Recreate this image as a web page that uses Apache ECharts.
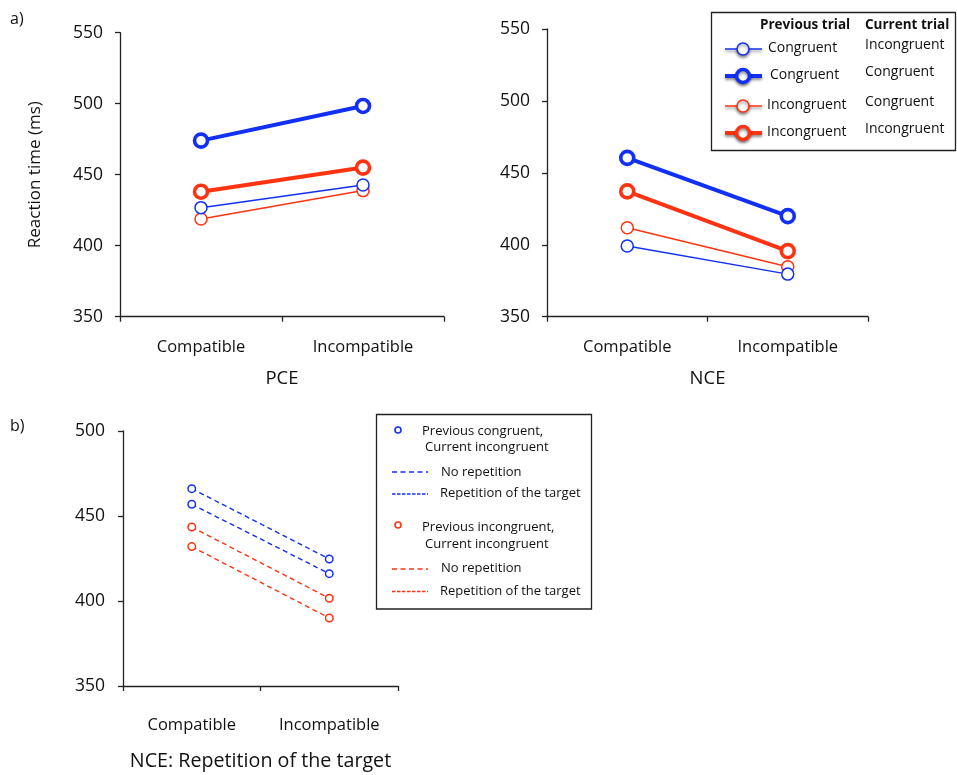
<!DOCTYPE html>
<html><head><meta charset="utf-8">
<script src="https://cdn.jsdelivr.net/npm/echarts@6/dist/echarts.min.js"></script>
<style>html,body{margin:0;padding:0;background:#fff}#c{width:957px;height:775px}</style>
</head><body><div id="c"></div>
<script>
// ---- data ----
const categories = ['Compatible', 'Incompatible'];
const yTicks = [350, 400, 450, 500, 550];
// PCE panel
const pceCongInc = [426.8, 442.7];   // previous congruent, current incongruent (thin blue)
const pceCongCong = [474, 498.4];    // previous congruent, current congruent (thick blue)
const pceIncCong = [418.8, 438.8];   // previous incongruent, current congruent (thin red)
const pceIncInc = [438, 455];        // previous incongruent, current incongruent (thick red)
// NCE panel
const nceCongInc = [399.1, 379.6];
const nceCongCong = [460.4, 419.9];
const nceIncCong = [411.8, 384.7];
const nceIncInc = [437.1, 395.6];
// NCE: repetition of the target panel
const repCongNoRep = [466.1, 424.7];
const repCongRep = [456.9, 416.1];
const repIncNoRep = [443.5, 401.6];
const repIncRep = [432, 390];

const BLUE = '#1230f5';
const RED = '#ff3312';
const FONT = 'Open Sans';

const chart = echarts.init(document.getElementById('c'), null, {renderer: 'canvas'});

function xAx(gi, name, margin, nameGap, nameSize) {
  return {
    type: 'category', gridIndex: gi, data: categories, boundaryGap: true,
    axisLine: {lineStyle: {color: '#222', width: 1.3}},
    axisTick: {show: true, length: 5, inside: false, lineStyle: {color: '#222', width: 1.3}},
    axisLabel: {color: '#111', fontSize: 16.5, fontFamily: FONT, margin: margin},
    name: name, nameLocation: 'middle', nameGap: nameGap,
    nameTextStyle: {color: '#111', fontSize: nameSize, fontFamily: FONT}
  };
}
function yAx(gi, min, max, margin, extra) {
  return Object.assign({
    type: 'value', gridIndex: gi, min: min, max: max, interval: 50,
    axisLine: {show: true, lineStyle: {color: '#222', width: 1.3}},
    axisTick: {show: true, length: 5, lineStyle: {color: '#222', width: 1.3}},
    axisLabel: {color: '#111', fontSize: 17.5, fontFamily: FONT, margin: margin},
    splitLine: {show: false}
  }, extra || {});
}
function solid(gi, data, color, thick) {
  return {
    type: 'line', xAxisIndex: gi, yAxisIndex: gi, data: data,
    symbol: 'circle', symbolSize: thick ? 13 : 12, showSymbol: true,
    lineStyle: {color: color, width: thick ? 4 : 1.5},
    itemStyle: {color: '#fff', borderColor: color, borderWidth: thick ? 3.6 : 1.5},
    emphasis: {disabled: true}, animation: false, z: thick ? 3 : 2
  };
}
function dashed(gi, data, color) {
  return {
    type: 'line', xAxisIndex: gi, yAxisIndex: gi, data: data,
    symbol: 'circle', symbolSize: 7.5, showSymbol: true,
    lineStyle: {color: color, width: 1.4, type: [5, 3.5]},
    itemStyle: {color: '#fff', borderColor: color, borderWidth: 1.5},
    emphasis: {disabled: true}, animation: false
  };
}

const sh = {shadowColor: 'rgba(0,0,0,0.45)', shadowBlur: 3, shadowOffsetY: 2};
function txt(x, y, s, size, bold) {
  return {type: 'text', x: x, y: y, z: 101,
    style: {text: s, font: (bold ? 'bold ' : '') + size + 'px "Open Sans"', fill: '#111', verticalAlign: 'middle'}};
}
function legRow(y, color, thick, prev, cur, prevX) {
  return [
    {type: 'line', z: 101, shape: {x1: 725, y1: y + 1, x2: 762, y2: y + 1},
     style: Object.assign({stroke: color, lineWidth: thick ? 4 : 1.5}, sh)},
    {type: 'circle', z: 102, shape: {cx: 743, cy: y + 1, r: thick ? 6.5 : 6},
     style: Object.assign({fill: '#fff', stroke: color, lineWidth: thick ? 3.5 : 1.5}, sh)},
    txt(prevX, y, prev, 14),
    txt(865, y - 2.5, cur, 14)
  ];
}

let graphic = [
  txt(10, 19, 'a)', 16),
  txt(10, 426, 'b)', 16),
  {type: 'rect', z: 100, shape: {x: 711.5, y: 12.5, width: 244, height: 138},
   style: {fill: '#fff', stroke: '#222', lineWidth: 1.3}},
  txt(760, 25, 'Previous trial', 13.5, true),
  txt(865, 25, 'Current trial', 13.5, true)
];
graphic = graphic
  .concat(legRow(48, BLUE, false, 'Congruent', 'Incongruent', 768))
  .concat(legRow(75, BLUE, true, 'Congruent', 'Congruent', 770))
  .concat(legRow(105, RED, false, 'Incongruent', 'Congruent', 767))
  .concat(legRow(132, RED, true, 'Incongruent', 'Incongruent', 767))
  .concat([
    {type: 'rect', z: 100, shape: {x: 376.5, y: 414.5, width: 215, height: 194.5},
     style: {fill: '#fff', stroke: '#222', lineWidth: 1.3}},
    {type: 'circle', z: 101, shape: {cx: 398, cy: 430, r: 3}, style: {fill: '#fff', stroke: BLUE, lineWidth: 1.6}},
    txt(422, 431, 'Previous congruent,', 13),
    txt(425, 447.5, 'Current incongruent', 13),
    {type: 'line', z: 101, shape: {x1: 392, y1: 472, x2: 428, y2: 472}, style: {stroke: BLUE, lineWidth: 1.3, lineDash: [5, 3.5]}},
    txt(441, 472, 'No repetition', 13),
    {type: 'line', z: 101, shape: {x1: 392, y1: 494, x2: 428, y2: 494}, style: {stroke: BLUE, lineWidth: 1.3, lineDash: [3.5, 1.5]}},
    txt(440, 493, 'Repetition of the target', 13),
    {type: 'circle', z: 101, shape: {cx: 398, cy: 525, r: 3}, style: {fill: '#fff', stroke: RED, lineWidth: 1.6}},
    txt(422, 527, 'Previous incongruent,', 13),
    txt(425, 544, 'Current incongruent', 13),
    {type: 'line', z: 101, shape: {x1: 392, y1: 569, x2: 428, y2: 569}, style: {stroke: RED, lineWidth: 1.3, lineDash: [5, 3.5]}},
    txt(441, 568.5, 'No repetition', 13),
    {type: 'line', z: 101, shape: {x1: 392, y1: 591.5, x2: 428, y2: 591.5}, style: {stroke: RED, lineWidth: 1.3, lineDash: [3.5, 1.5]}},
    txt(440, 591, 'Repetition of the target', 13)
  ]);

chart.setOption({
  animation: false,
  textStyle: {fontFamily: FONT},
  grid: [
    {left: 120, top: 32.7, width: 324, height: 284},
    {left: 547, top: 29, width: 321, height: 287.7},
    {left: 123, top: 431, width: 275, height: 255}
  ],
  xAxis: [xAx(0, 'PCE', 22, 53, 18.5), xAx(1, 'NCE', 22, 53, 18.5), xAx(2, 'NCE: Repetition of the target', 31, 65, 19.7)],
  yAxis: [
    yAx(0, 350, 550, 17, {name: 'Reaction time (ms)', nameLocation: 'middle', nameGap: 76, nameRotate: 90,
      nameTextStyle: {color: '#111', fontSize: 17, fontFamily: FONT}}),
    yAx(1, 350, 550, 17),
    yAx(2, 350, 500, 18)
  ],
  series: [
    solid(0, pceIncCong, RED, false),
    solid(0, pceCongInc, BLUE, false),
    solid(0, pceIncInc, RED, true),
    solid(0, pceCongCong, BLUE, true),
    solid(1, nceIncCong, RED, false),
    solid(1, nceCongInc, BLUE, false),
    solid(1, nceIncInc, RED, true),
    solid(1, nceCongCong, BLUE, true),
    dashed(2, repCongNoRep, BLUE),
    dashed(2, repCongRep, BLUE),
    dashed(2, repIncNoRep, RED),
    dashed(2, repIncRep, RED)
  ],
  graphic: graphic
});
</script></body></html>
